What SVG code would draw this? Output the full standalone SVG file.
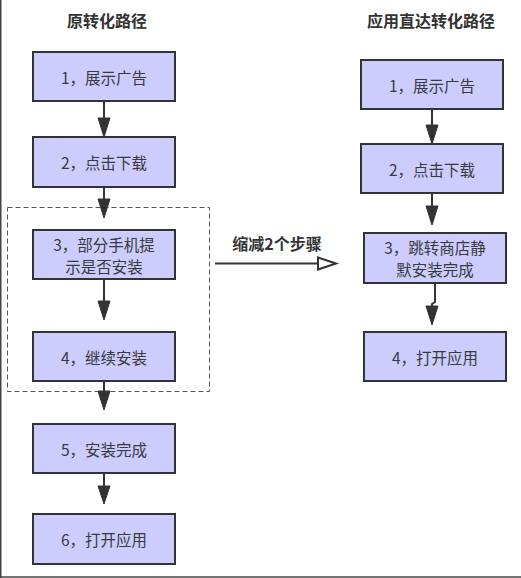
<svg xmlns="http://www.w3.org/2000/svg" width="521" height="578" viewBox="0 0 521 578">
<style>
.box{fill:#ccccff;stroke:#333333;stroke-width:2}
.t{font-family:"Noto Sans CJK SC","Liberation Sans",sans-serif;font-size:15.5px;fill:#3a3a3a;text-anchor:middle;dominant-baseline:central}
.h{font-family:"Noto Sans CJK SC","Liberation Sans",sans-serif;font-size:16px;font-weight:bold;fill:#333333;text-anchor:middle;dominant-baseline:central}
.ln{stroke:#333333;stroke-width:2;fill:none}
.hd{fill:#333333;stroke:#333333;stroke-width:1;stroke-linejoin:miter}
</style>
<rect x="0" y="0" width="521" height="578" fill="#ffffff"/>
<line x1="0.75" y1="0" x2="0.75" y2="578" stroke="#444444" stroke-width="1.5"/>
<line x1="0" y1="577" x2="521" y2="577" stroke="#444444" stroke-width="1.5"/>
<text class="h" x="107" y="20">原转化路径</text>
<text class="h" x="431" y="20">应用直达转化路径</text>
<rect id="group-box" x="7.5" y="207.5" width="202" height="184" fill="none" stroke="#555555" stroke-width="1" stroke-dasharray="5,3"/>
<g id="connectors">
<line class="ln" x1="104" y1="101" x2="104" y2="118"/>
<polygon class="hd" points="98,118 110,118 104,137"/>
<line class="ln" x1="104" y1="187" x2="104" y2="199"/>
<polygon class="hd" points="98,199 110,199 104,218"/>
<line class="ln" x1="104" y1="279" x2="104" y2="301"/>
<polygon class="hd" points="98,301 110,301 104,320"/>
<line class="ln" x1="104" y1="381" x2="104" y2="391"/>
<polygon class="hd" points="98,391 110,391 104,410"/>
<line class="ln" x1="104" y1="473" x2="104" y2="486"/>
<polygon class="hd" points="98,486 110,486 104,504"/>
<line class="ln" x1="432" y1="109" x2="432" y2="125"/>
<polygon class="hd" points="426,125 438,125 432,144"/>
<line class="ln" x1="432" y1="193" x2="432" y2="206"/>
<polygon class="hd" points="426,206 438,206 432,225"/>
<polyline class="ln" points="435,283 435,302 432,304 432,307"/>
<polygon class="hd" points="426,306 438,306 432,325"/>
<line class="ln" x1="215" y1="263.5" x2="319" y2="263.5"/>
<polygon points="318,257.5 336,263.5 318,269.5" fill="#ffffff" stroke="#333333" stroke-width="2"/>
<text class="h" x="277" y="243">缩减2个步骤</text>
</g>
<g id="l1"><rect class="box" x="33" y="52" width="142" height="49"/><text class="t" x="104" y="77">1，展示广告</text></g>
<g id="l2"><rect class="box" x="33" y="137" width="142" height="50"/><text class="t" x="104" y="162">2，点击下载</text></g>
<g id="l3"><rect class="box" x="33" y="230" width="142" height="49"/><text class="t" x="104" y="244">3，部分手机提</text><text class="t" x="104" y="266">示是否安装</text></g>
<g id="l4"><rect class="box" x="33" y="332" width="142" height="49"/><text class="t" x="104" y="357">4，继续安装</text></g>
<g id="l5"><rect class="box" x="33" y="424" width="142" height="49"/><text class="t" x="104" y="449">5，安装完成</text></g>
<g id="l6"><rect class="box" x="33" y="514" width="142" height="50"/><text class="t" x="104" y="539">6，打开应用</text></g>
<g id="r1"><rect class="box" x="361" y="60" width="142" height="49"/><text class="t" x="432" y="85">1，展示广告</text></g>
<g id="r2"><rect class="box" x="361" y="144" width="142" height="49"/><text class="t" x="432" y="169">2，点击下载</text></g>
<g id="r3"><rect class="box" x="364" y="233" width="142" height="50"/><text class="t" x="435" y="247">3，跳转商店静</text><text class="t" x="435" y="269">默安装完成</text></g>
<g id="r4"><rect class="box" x="364" y="332" width="142" height="49"/><text class="t" x="435" y="357">4，打开应用</text></g>
</svg>
